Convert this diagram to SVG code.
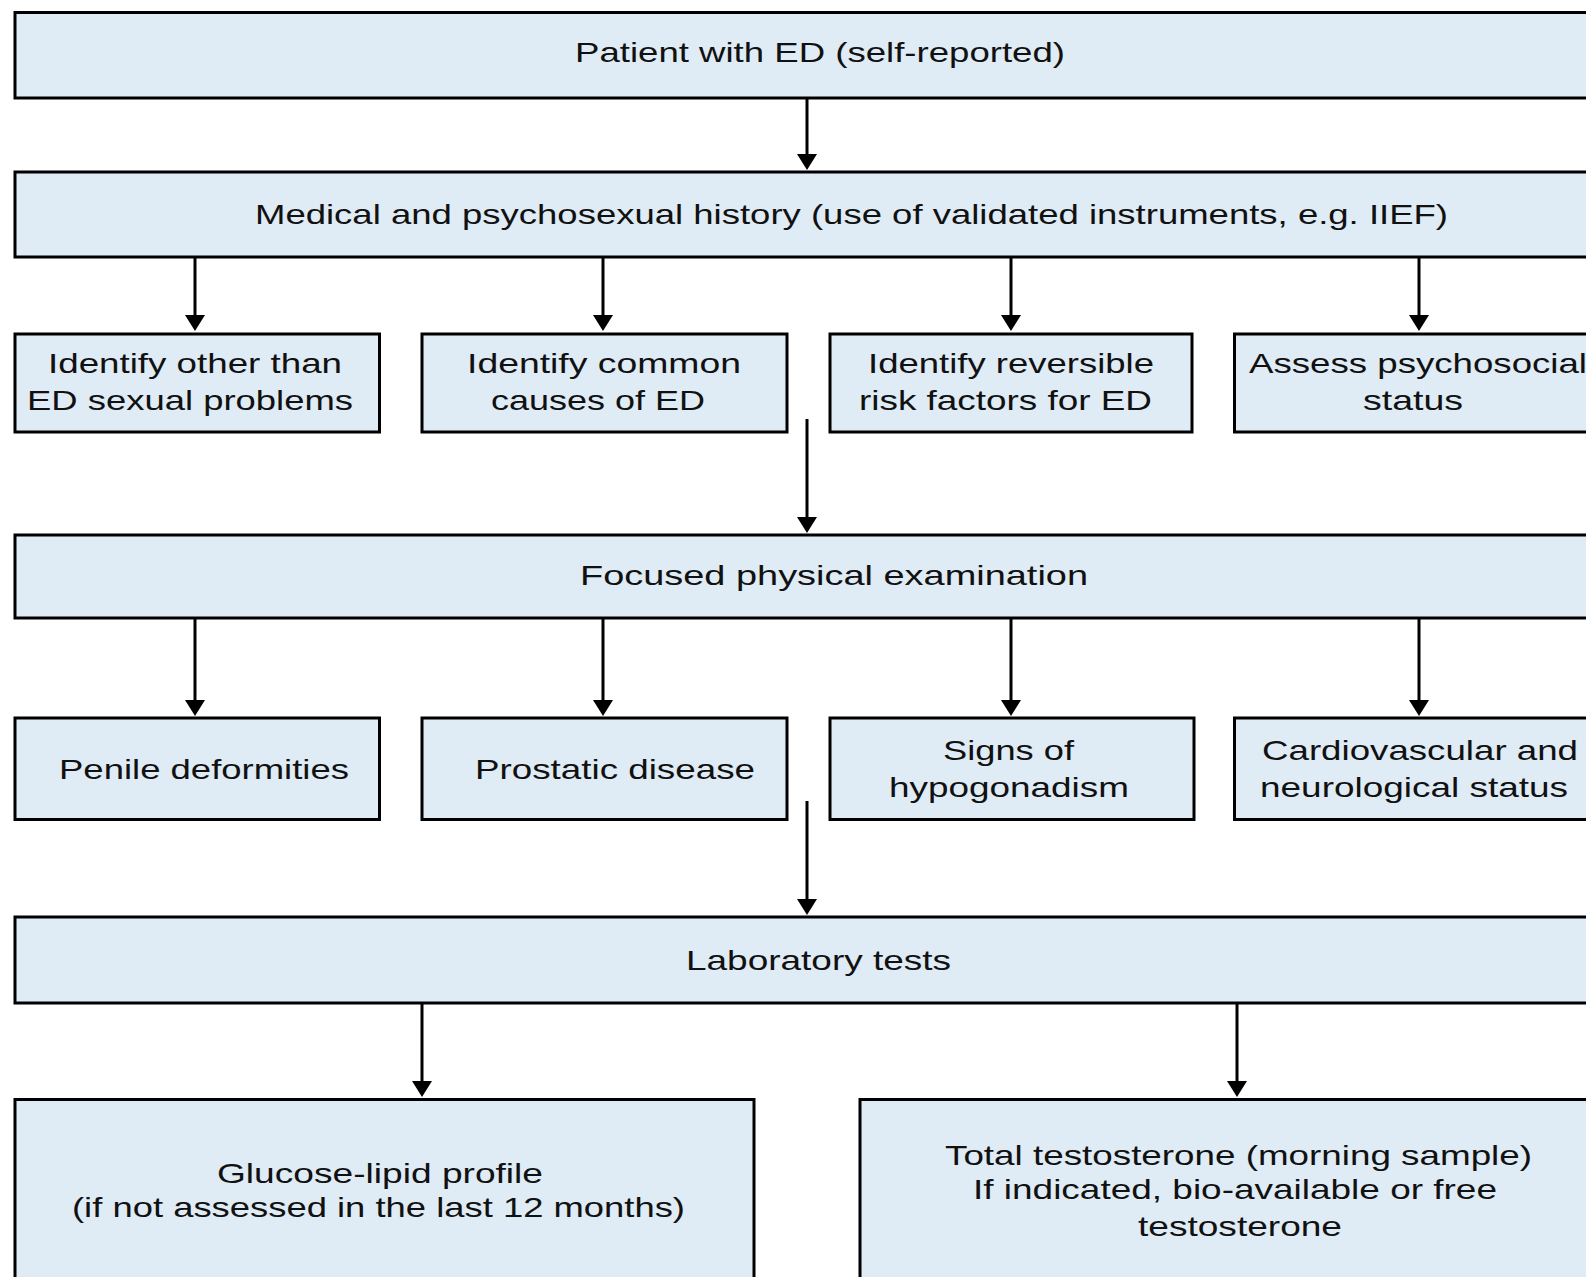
<svg xmlns="http://www.w3.org/2000/svg" width="1586" height="1277" viewBox="0 0 1586 1277">
<style>
.box{fill:#dfebf5;stroke:#000;stroke-width:3}
.t{font-family:"Liberation Sans",Arial,sans-serif;font-size:28px;fill:#111}
.c{stroke:#000;stroke-width:3;fill:none;marker-end:url(#ah)}
</style>
<defs>
<marker id="ah" markerUnits="userSpaceOnUse" markerWidth="20" markerHeight="16" viewBox="0 0 20 16" refX="10" refY="8" orient="0" overflow="visible">
<path d="M0,0 L20,0 L10,16 Z" fill="#000"/>
</marker>
</defs>
<rect width="1586" height="1277" fill="#fff"/>
<g id="connectors">
<line class="c" x1="807" y1="98" x2="807" y2="162"/>
<line class="c" x1="195" y1="257" x2="195" y2="323"/>
<line class="c" x1="603" y1="257" x2="603" y2="323"/>
<line class="c" x1="1011" y1="257" x2="1011" y2="323"/>
<line class="c" x1="1419" y1="257" x2="1419" y2="323"/>
<line class="c" x1="807" y1="419" x2="807" y2="525"/>
<line class="c" x1="195" y1="618" x2="195" y2="708"/>
<line class="c" x1="603" y1="618" x2="603" y2="708"/>
<line class="c" x1="1011" y1="618" x2="1011" y2="708"/>
<line class="c" x1="1419" y1="618" x2="1419" y2="708"/>
<line class="c" x1="807" y1="801" x2="807" y2="907"/>
<line class="c" x1="422" y1="1003" x2="422" y2="1089"/>
<line class="c" x1="1237" y1="1003" x2="1237" y2="1089"/>
</g>
<g id="n1"><rect class="box" x="15" y="12.5" width="1600" height="85.5"/>
<text class="t" x="575" y="62" textLength="490" lengthAdjust="spacingAndGlyphs">Patient with ED (self-reported)</text></g>
<g id="n2"><rect class="box" x="15" y="172" width="1600" height="85"/>
<text class="t" x="255" y="224" textLength="1193" lengthAdjust="spacingAndGlyphs">Medical and psychosexual history (use of validated instruments, e.g. IIEF)</text></g>
<g id="n3"><rect class="box" x="15" y="334" width="364.5" height="98"/>
<text class="t" x="48" y="373" textLength="294" lengthAdjust="spacingAndGlyphs">Identify other than</text>
<text class="t" x="27" y="410" textLength="326" lengthAdjust="spacingAndGlyphs">ED sexual problems</text></g>
<g id="n4"><rect class="box" x="422" y="334" width="365" height="98"/>
<text class="t" x="467" y="373" textLength="274" lengthAdjust="spacingAndGlyphs">Identify common</text>
<text class="t" x="491" y="410" textLength="214" lengthAdjust="spacingAndGlyphs">causes of ED</text></g>
<g id="n5"><rect class="box" x="830" y="334" width="362" height="98"/>
<text class="t" x="868" y="373" textLength="286" lengthAdjust="spacingAndGlyphs">Identify reversible</text>
<text class="t" x="859" y="410" textLength="293" lengthAdjust="spacingAndGlyphs">risk factors for ED</text></g>
<g id="n6"><rect class="box" x="1234.5" y="334" width="400" height="98"/>
<text class="t" x="1249" y="373" textLength="338" lengthAdjust="spacingAndGlyphs">Assess psychosocial</text>
<text class="t" x="1363" y="410" textLength="100" lengthAdjust="spacingAndGlyphs">status</text></g>
<g id="n7"><rect class="box" x="15" y="535" width="1600" height="83"/>
<text class="t" x="580" y="585" textLength="508" lengthAdjust="spacingAndGlyphs">Focused physical examination</text></g>
<g id="n8"><rect class="box" x="15" y="718" width="364.5" height="101.5"/>
<text class="t" x="59" y="779" textLength="290" lengthAdjust="spacingAndGlyphs">Penile deformities</text></g>
<g id="n9"><rect class="box" x="422" y="718" width="365" height="101.5"/>
<text class="t" x="475" y="779" textLength="280" lengthAdjust="spacingAndGlyphs">Prostatic disease</text></g>
<g id="n10"><rect class="box" x="830" y="718" width="364" height="101.5"/>
<text class="t" x="943" y="760" textLength="131" lengthAdjust="spacingAndGlyphs">Signs of</text>
<text class="t" x="889" y="797" textLength="240" lengthAdjust="spacingAndGlyphs">hypogonadism</text></g>
<g id="n11"><rect class="box" x="1234.5" y="718" width="400" height="101.5"/>
<text class="t" x="1262" y="760" textLength="316" lengthAdjust="spacingAndGlyphs">Cardiovascular and</text>
<text class="t" x="1260" y="797" textLength="308" lengthAdjust="spacingAndGlyphs">neurological status</text></g>
<g id="n12"><rect class="box" x="15" y="917" width="1600" height="86"/>
<text class="t" x="686" y="970" textLength="265" lengthAdjust="spacingAndGlyphs">Laboratory tests</text></g>
<g id="n13"><rect class="box" x="15" y="1099.5" width="739" height="250"/>
<text class="t" x="217" y="1183" textLength="326" lengthAdjust="spacingAndGlyphs">Glucose-lipid profile</text>
<text class="t" x="72" y="1217" textLength="613" lengthAdjust="spacingAndGlyphs">(if not assessed in the last 12 months)</text></g>
<g id="n14"><rect class="box" x="860" y="1099.5" width="800" height="250"/>
<text class="t" x="945" y="1165" textLength="587" lengthAdjust="spacingAndGlyphs">Total testosterone (morning sample)</text>
<text class="t" x="973" y="1199" textLength="524" lengthAdjust="spacingAndGlyphs">If indicated, bio-available or free</text>
<text class="t" x="1138" y="1236" textLength="204" lengthAdjust="spacingAndGlyphs">testosterone</text></g>
</svg>
